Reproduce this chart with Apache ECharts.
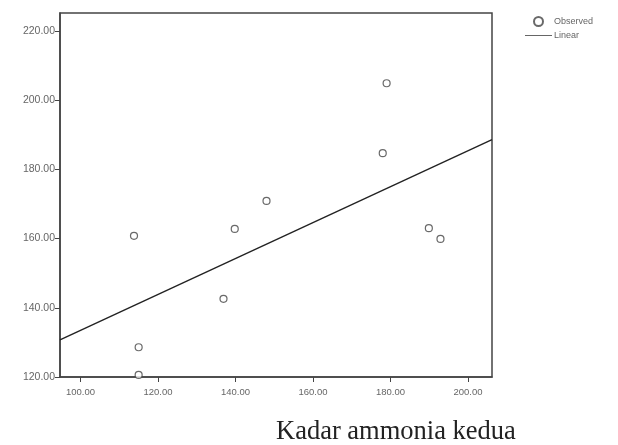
<!DOCTYPE html>
<html><head><meta charset="utf-8">
<script src="https://cdn.jsdelivr.net/npm/echarts@6/dist/echarts.min.js"></script>
<style>html,body{margin:0;padding:0;background:#fff}#c{width:618px;height:445px}</style>
</head><body><div id="c"></div>
<script>
const observedX = [113.8, 115.0, 115.0, 136.9, 139.8, 148.0, 179.0, 178.0, 189.9, 192.9];
const observedY = [160.8, 128.6, 120.6, 142.6, 162.8, 170.9, 204.9, 184.7, 163.0, 159.9];
const linearX = [94.7, 206.2];
const linearY = [130.7, 188.6];
const xTicks = [100, 120, 140, 160, 180, 200];
const yTicks = [120, 140, 160, 180, 200, 220];
const xTitle = 'Kadar ammonia kedua';

const chart = echarts.init(document.getElementById('c'));
chart.setOption({
  animation: false,
  backgroundColor: '#fff',
  title: {
    text: xTitle, left: 271, top: 414,
    textStyle: {fontFamily: 'Liberation Serif', fontWeight: 'normal', fontSize: 26.5, color: '#222'}
  },
  legend: {
    orient: 'vertical', left: 520, top: 11, itemGap: 4, itemWidth: 27, itemHeight: 9,
    textStyle: {fontSize: 9, color: '#666', fontFamily: 'Liberation Sans', padding: [0, 0, 0, -3]},
    data: [
      {name: 'Observed', icon: 'circle'},
      {name: 'Linear', icon: 'path://M0,0 L27,0 L27,1 L0,1 Z'}
    ]
  },
  grid: {left: 60, right: 126, top: 13, bottom: 68, show: true, borderColor: '#444', borderWidth: 1.5},
  xAxis: {
    type: 'value', min: 94.7, max: 206.2,
    splitLine: {show: false},
    axisLine: {lineStyle: {color: '#444', width: 1.5}},
    axisTick: {show: true, length: 5, customValues: xTicks, lineStyle: {color: '#444'}},
    axisLabel: {customValues: xTicks, formatter: v => v.toFixed(2), fontSize: 9.5, color: '#666', margin: 10, fontFamily: 'Liberation Sans'}
  },
  yAxis: {
    type: 'value', min: 120, max: 225.2,
    splitLine: {show: false},
    axisLine: {lineStyle: {color: '#444', width: 1.5}},
    axisTick: {show: true, length: 5, customValues: yTicks, lineStyle: {color: '#444'}},
    axisLabel: {customValues: yTicks, formatter: v => v.toFixed(2), fontSize: 10.5, color: '#666', margin: 5, fontFamily: 'Liberation Sans'}
  },
  series: [
    {
      name: 'Observed', type: 'scatter', symbol: 'circle', symbolSize: 7,
      itemStyle: {color: '#fff', borderColor: '#444', borderWidth: 1.2},
      data: observedX.map((x, i) => [x, observedY[i]]), z: 3
    },
    {
      name: 'Linear', type: 'line', symbol: 'none',
      lineStyle: {color: '#222', width: 1.4},
      itemStyle: {color: '#666'},
      data: linearX.map((x, i) => [x, linearY[i]])
    }
  ]
});
</script></body></html>
